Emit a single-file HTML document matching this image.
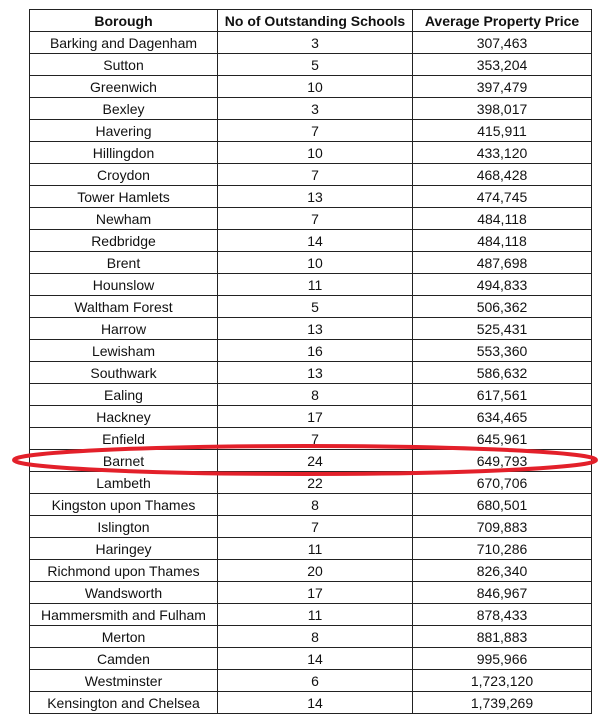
<!DOCTYPE html>
<html><head><meta charset="utf-8"><style>
body{margin:0;background:#fff;width:608px;height:727px;overflow:hidden;position:relative;font-family:"Liberation Sans","DejaVu Sans",sans-serif;}
table{position:absolute;left:29px;top:9px;border-collapse:collapse;table-layout:fixed;width:562px;}
td,th{border:1px solid #222;height:21px;padding:0;text-align:center;font-size:14px;color:#111;line-height:20px;white-space:nowrap;overflow:hidden;}
th{font-weight:bold;}
svg{position:absolute;left:0;top:0;}
</style></head><body>
<table>
<colgroup><col style="width:188px"><col style="width:195px"><col style="width:179px"></colgroup>
<thead><tr><th>Borough</th><th>No of Outstanding Schools</th><th>Average Property Price</th></tr></thead>
<tbody id="tb"></tbody></table>
<svg width="608" height="727">
<ellipse cx="305" cy="460" rx="291" ry="14" fill="none" stroke="#e3202a" stroke-width="4"/>
</svg>
<script>
const boroughs=["Barking and Dagenham","Sutton","Greenwich","Bexley","Havering","Hillingdon","Croydon","Tower Hamlets","Newham","Redbridge","Brent","Hounslow","Waltham Forest","Harrow","Lewisham","Southwark","Ealing","Hackney","Enfield","Barnet","Lambeth","Kingston upon Thames","Islington","Haringey","Richmond upon Thames","Wandsworth","Hammersmith and Fulham","Merton","Camden","Westminster","Kensington and Chelsea"];
const schools=[3,5,10,3,7,10,7,13,7,14,10,11,5,13,16,13,8,17,7,24,22,8,7,11,20,17,11,8,14,6,14];
const prices=["307,463","353,204","397,479","398,017","415,911","433,120","468,428","474,745","484,118","484,118","487,698","494,833","506,362","525,431","553,360","586,632","617,561","634,465","645,961","649,793","670,706","680,501","709,883","710,286","826,340","846,967","878,433","881,883","995,966","1,723,120","1,739,269"];
const tb=document.getElementById('tb');
boroughs.forEach((b,i)=>{
const tr=document.createElement('tr');


[b,schools[i],prices[i]].forEach((v,j)=>{
const td=document.createElement('td');


td.textContent=v;tr.appendChild(td);});
tb.appendChild(tr);});
</script>
</body></html>
